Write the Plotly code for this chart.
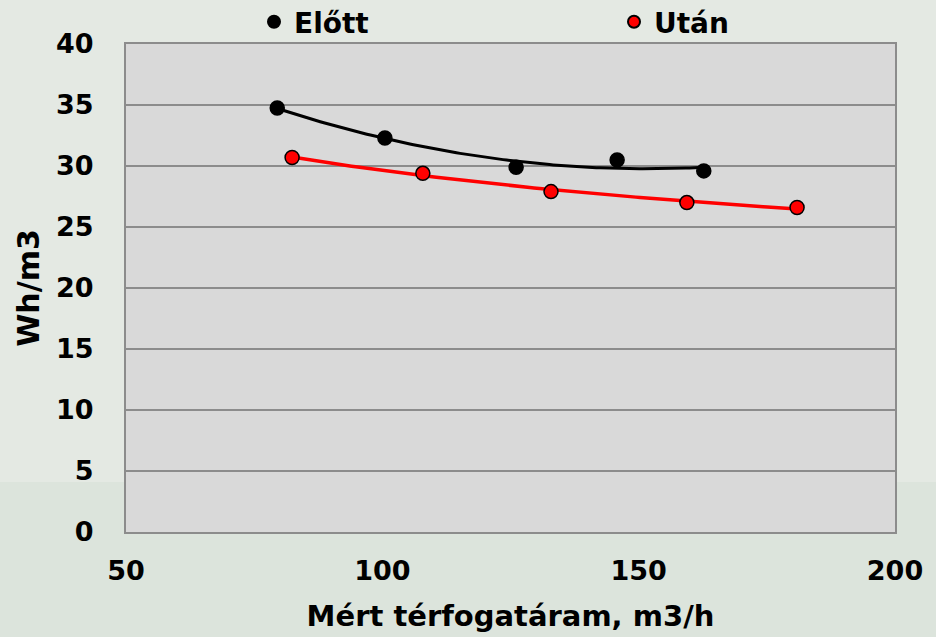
import numpy as np
import plotly.graph_objects as go

# Data
x_elott = [79.5, 100.5, 126.1, 145.8, 162.7]
y_elott = [34.75, 32.3, 29.9, 30.5, 29.6]
x_utan = [82.4, 107.9, 132.9, 159.4, 180.9]
y_utan = [30.7, 29.4, 27.9, 27.0, 26.6]

series_names = ["Előtt", "Után"]
x_ticks = [50, 100, 150, 200]
y_ticks = [0, 5, 10, 15, 20, 25, 30, 35, 40]
x_title = "Mért térfogatáram, m3/h"
y_title = "Wh/m3"

# Trendlines (as in the spreadsheet): 2nd-order polynomial and power fit
c_el = np.polyfit(x_elott, y_elott, 2)
tx_el = np.linspace(min(x_elott), max(x_elott), 120)
ty_el = np.polyval(c_el, tx_el)

b_ut, a_ut = np.polyfit(np.log(x_utan), np.log(y_utan), 1)
tx_ut = np.linspace(min(x_utan), max(x_utan), 120)
ty_ut = np.exp(a_ut) * tx_ut ** b_ut

FONT = "DejaVu Sans"
W, H = 936, 637
L, R, T, B = 126, 895, 44, 532

fig = go.Figure()
fig.add_trace(go.Scatter(x=tx_el, y=ty_el, mode="lines", line=dict(color="black", width=3),
                         showlegend=False, hoverinfo="skip"))
fig.add_trace(go.Scatter(x=tx_ut, y=ty_ut, mode="lines", line=dict(color="#ff0000", width=3.5),
                         showlegend=False, hoverinfo="skip"))
fig.add_trace(go.Scatter(x=x_elott, y=y_elott, mode="markers", name=series_names[0],
                         marker=dict(color="black", size=14, line=dict(color="black", width=1.5))))
fig.add_trace(go.Scatter(x=x_utan, y=y_utan, mode="markers", name=series_names[1],
                         marker=dict(color="#ff0000", size=14, line=dict(color="black", width=1.5))))

def px2paper_x(p):
    return (p - L) / (R - L)

def px2paper_y(p):
    return (B - p) / (B - T)

bg2 = "#dce4dc"
shapes = []
for (x0, x1, y0, y1) in [(0, L, 482, H), (R, W, 482, H), (0, W, B, H)]:
    shapes.append(dict(type="rect", xref="paper", yref="paper", layer="below",
                       x0=px2paper_x(x0), x1=px2paper_x(x1), y0=px2paper_y(y0), y1=px2paper_y(y1),
                       fillcolor=bg2, line=dict(width=0)))

axis_font = dict(family=FONT, size=27, color="black", weight="bold")

fig.update_layout(
    width=W, height=H,
    margin=dict(l=L, r=W - R, t=T, b=H - B, pad=0, autoexpand=False),
    paper_bgcolor="#e4e9e3",
    plot_bgcolor="#d9d9d9",
    shapes=shapes,
    showlegend=True,
    legend=dict(orientation="h", xref="container", yref="container", x=254 / W, y=1 - 22 / H,
                xanchor="left", yanchor="middle", bgcolor="rgba(0,0,0,0)",
                font=dict(family=FONT, size=28, color="black", weight="bold"),
                entrywidth=315, itemsizing="constant"),
    xaxis=dict(range=[50, 200], tickvals=x_ticks, showgrid=False, zeroline=False,
               showline=True, linecolor="#8c8c8c", linewidth=2, mirror=True, automargin=False,
               ticks="", tickfont=axis_font, ticklabelstandoff=14,
               title=dict(text=x_title, font=dict(family=FONT, size=29, color="black", weight="bold"),
                          standoff=20)),
    yaxis=dict(range=[0, 40], tickvals=y_ticks, showgrid=True, gridcolor="#8c8c8c", gridwidth=2,
               zeroline=False, showline=True, linecolor="#8c8c8c", linewidth=2, mirror=True,
               automargin=False,
               ticks="", tickfont=axis_font, ticklabelstandoff=25,
               title=dict(text=y_title, font=dict(family=FONT, size=30, color="black", weight="bold"),
                          standoff=8)),
)

fig.write_html("out.html", config={"displayModeBar": False},
               post_script="document.body.style.margin='0';")
